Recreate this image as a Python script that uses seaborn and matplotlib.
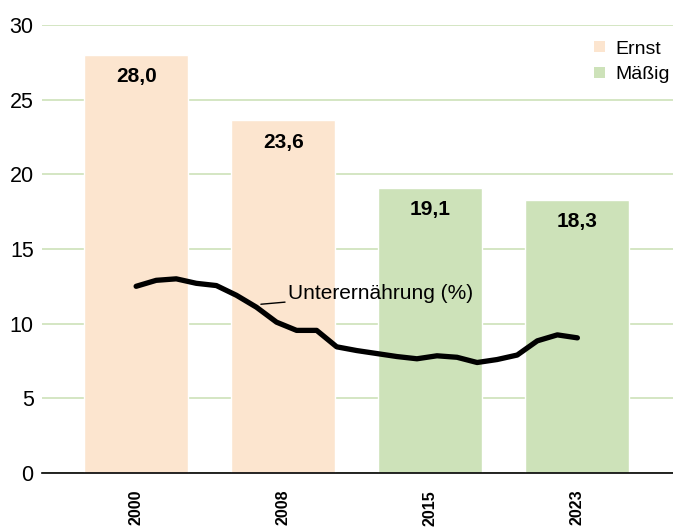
import numpy as np
import pandas as pd
import matplotlib
matplotlib.use("Agg")
import matplotlib.pyplot as plt
import seaborn as sns
from matplotlib.patches import Patch

# Daten
years = ["2000", "2008", "2015", "2023"]
scores = [28.0, 23.6, 19.1, 18.3]
levels = ["Ernst", "Ernst", "Mäßig", "Mäßig"]
level_colors = {"Ernst": "#fce5cf", "Mäßig": "#cde2b9"}

# Unterernährung (%), jährlich
undernourishment = [12.5, 12.9, 13.0, 12.7, 12.55, 11.9, 11.1, 10.1, 9.55, 9.55,
                    8.45, 8.2, 8.0, 7.8, 7.65, 7.85, 7.75, 7.4, 7.6, 7.9,
                    8.85, 9.25, 9.05]

sns.set_style("white")
plt.rcParams["font.family"] = ["Liberation Sans", "DejaVu Sans"]
plt.rcParams["text.color"] = "black"
plt.rcParams["xtick.color"] = "black"
plt.rcParams["ytick.color"] = "black"

df = pd.DataFrame({"year": years, "score": scores, "level": levels})

fig = plt.figure(figsize=(6.73, 5.28), dpi=100)
ax = fig.add_axes([0.0624, 0.104, 0.9376, 0.849])

sns.barplot(data=df, x="year", y="score", hue="level", palette=level_colors,
            dodge=False, width=0.707, saturation=1, legend=False, ax=ax,
            zorder=2)

# Linie über die Balken
line_x = np.linspace(0, len(years) - 1, len(undernourishment))
sns.lineplot(x=line_x, y=undernourishment, color="black", linewidth=3.8,
             ax=ax, zorder=4)

# Beschriftung der Linie mit Führungslinie
ax.annotate("Unterernährung (%)", xy=(line_x[6] + 0.03, 11.3),
            xytext=(line_x[7] + 0.08, 12.0), fontsize=15, va="center",
            arrowprops=dict(arrowstyle="-", color="black", lw=1,
                            shrinkA=0, shrinkB=0), zorder=5)

# Werte in den Balken
for i, v in enumerate(scores):
    ax.text(i, v - 1.45, f"{v:.1f}".replace(".", ","), ha="center", va="center",
            fontsize=15, fontweight="bold", zorder=5)

ax.set_ylim(0, 30)
ax.set_xlim(-0.64, 3.65)
ax.set_yticks([0, 5, 10, 15, 20, 25, 30])
ax.yaxis.grid(True, color="#cde2b9", linewidth=1.2, zorder=0)
ax.set_axisbelow(True)
ax.tick_params(axis="y", length=0, labelsize=15.5, pad=6)
ax.tick_params(axis="x", length=0, pad=12)
for lbl in ax.get_xticklabels():
    lbl.set_rotation(90)
    lbl.set_fontweight("bold")
    lbl.set_fontsize(11.5)
ax.set_xlabel("")
ax.set_ylabel("")
for side in ["top", "right", "left"]:
    ax.spines[side].set_visible(False)
ax.spines["bottom"].set_color("black")
ax.spines["bottom"].set_linewidth(1.2)

handles = [Patch(facecolor=level_colors[k], edgecolor="none", label=k)
           for k in ["Ernst", "Mäßig"]]
ax.legend(handles=handles, loc="upper right", bbox_to_anchor=(0.995, 0.965),
          frameon=False, fontsize=14, handlelength=0.55, handleheight=0.55,
          handletextpad=0.55, labelspacing=0.45, borderpad=0, borderaxespad=0)

fig.savefig("out.png", dpi=100)
